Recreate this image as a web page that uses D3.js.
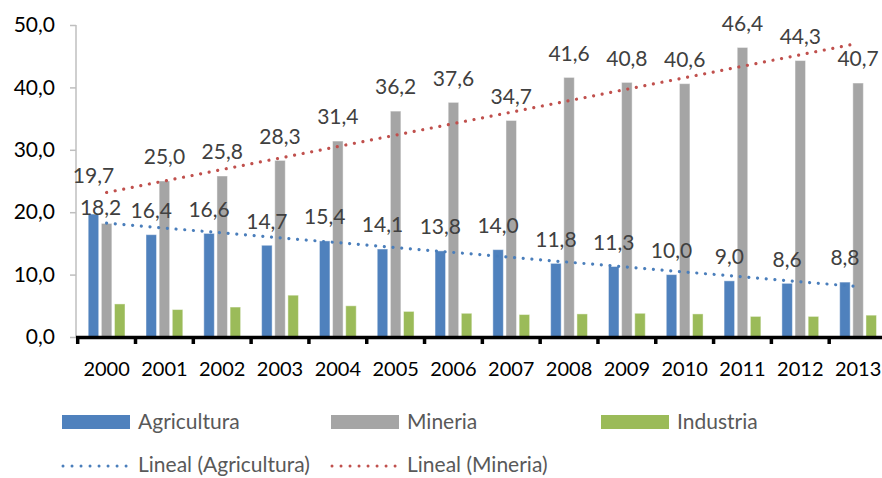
<!DOCTYPE html>
<html><head><meta charset="utf-8">
<script src="https://cdn.jsdelivr.net/npm/d3@7/dist/d3.min.js"></script>
<style>body{margin:0;background:#fff;} svg{display:block;}</style>
</head><body>
<svg id="c" width="882" height="478"></svg>
<script>
const years = ["2000","2001","2002","2003","2004","2005","2006","2007","2008","2009","2010","2011","2012","2013"];
const agricultura = [19.7,16.4,16.6,14.7,15.4,14.1,13.8,14.0,11.8,11.3,10.0,9.0,8.6,8.8];
const mineria = [18.2,25.0,25.8,28.3,31.4,36.2,37.6,34.7,41.6,40.8,40.6,46.4,44.3,40.7];
const industria = [5.3,4.4,4.8,6.7,5.0,4.1,3.8,3.6,3.7,3.8,3.7,3.3,3.3,3.5];
const yTicks = [0,10,20,30,40,50];
const seriesNames = ["Agricultura","Mineria","Industria"];
const colors = {Agricultura:"#4F81BD", Mineria:"#A5A5A5", Industria:"#9BBB59"};
const trendColors = {Agricultura:"#4A7EBB", Mineria:"#C0504D"};

const svg = d3.select("#c");
const font = "Lato, 'Open Sans', sans-serif";
const x0 = d3.scaleBand().domain(years).range([77.7, 887]).padding(0);
const x1 = d3.scaleBand().domain(seriesNames).range([10.5, 47.3]).paddingInner(0.2);
const y = d3.scaleLinear().domain([0,50]).range([337,25]);
const fmt = v => d3.format(".1f")(v).replace(".", ",");

const data = {Agricultura: agricultura, Mineria: mineria, Industria: industria};

// y axis
const yAxis = svg.append("g").attr("transform","translate(76,0)")
  .call(d3.axisLeft(y).tickValues(yTicks).tickSize(6).tickPadding(15).tickFormat(fmt));
yAxis.select(".domain").attr("stroke","#BFBFBF").attr("stroke-width",1.5).attr("d","M0,25V337");
yAxis.selectAll(".tick line").attr("stroke","#BFBFBF").attr("stroke-width",1.5);
yAxis.selectAll("text").attr("font-family",font).attr("font-size",21).attr("fill","#000");

// bars
seriesNames.forEach(s => {
  svg.append("g").selectAll("rect").data(data[s]).join("rect")
    .attr("x",(d,i)=>x0(years[i])+x1(s))
    .attr("width",x1.bandwidth())
    .attr("y",d=>y(d))
    .attr("height",d=>y(0)-y(d))
    .attr("fill",colors[s])
    .attr("stroke","#ffffff").attr("stroke-opacity",0.45).attr("stroke-width",1);
});

// x axis
const xAxis = svg.append("g").attr("transform","translate(0,337.5)")
  .call(d3.axisBottom(x0).tickSize(0).tickPadding(24));
xAxis.select(".domain").attr("stroke","#000").attr("stroke-width",3.5).attr("d","M76,0H882");
xAxis.selectAll("text").attr("font-family",font).attr("font-size",20).attr("fill","#000");
const tickPos = years.map(yy => x0(yy)).concat([x0.range()[1]]);
svg.append("g").selectAll("line").data(tickPos).join("line")
  .attr("x1",d=>d).attr("x2",d=>d).attr("y1",337).attr("y2",344)
  .attr("stroke","#000").attr("stroke-width",3.5);

// trend lines (least squares)
function linfit(vals){
  const xs = vals.map((v,i)=>i+1);
  const mx = d3.mean(xs), my = d3.mean(vals);
  const b = d3.sum(xs.map((xx,i)=>(xx-mx)*(vals[i]-my))) / d3.sum(xs.map(xx=>(xx-mx)*(xx-mx)));
  return xx => my + b*(xx-mx);
}
["Agricultura","Mineria"].forEach(s => {
  const f = linfit(data[s]);
  const line = d3.line().x(d=>x0(years[d])+x0.bandwidth()/2).y(d=>y(f(d+1)));
  svg.append("path").datum([0, years.length-1]).attr("d",line)
    .attr("fill","none").attr("stroke",trendColors[s]).attr("stroke-width",3.2)
    .attr("stroke-linecap","round").attr("stroke-dasharray","0.01 8.7");
});

// data labels
const labelAdjust = {"Agricultura-0":[0,-14], "Mineria-0":[-6,8]};
["Agricultura","Mineria"].forEach(s => {
  svg.append("g").selectAll("text").data(data[s]).join("text")
    .attr("x",(d,i)=>x0(years[i])+x1(s)+x1.bandwidth()/2 + ((labelAdjust[s+"-"+i]||[0,0])[0]))
    .attr("y",(d,i)=>y(d)-24 + ((labelAdjust[s+"-"+i]||[0,0])[1]))
    .attr("dy","0.35em").attr("text-anchor","middle")
    .attr("font-family",font).attr("font-size",21).attr("fill","#404040")
    .text(d=>fmt(d));
});

// legend
const lg = svg.append("g").attr("font-family",font).attr("font-size",21).attr("fill","#595959");
const row1 = [{n:"Agricultura",x:62},{n:"Mineria",x:331},{n:"Industria",x:601}];
row1.forEach(r => {
  lg.append("rect").attr("x",r.x).attr("y",415).attr("width",68).attr("height",14).attr("fill",colors[r.n]);
  lg.append("text").attr("x",r.x+76).attr("y",429.3).text(r.n);
});
const row2 = [{n:"Agricultura",x:62,t:"Lineal (Agricultura)"},{n:"Mineria",x:331,t:"Lineal (Mineria)"}];
row2.forEach(r => {
  lg.append("line").attr("x1",r.x+1).attr("x2",r.x+65).attr("y1",466).attr("y2",466)
    .attr("stroke",trendColors[r.n]).attr("stroke-width",3).attr("stroke-linecap","round")
    .attr("stroke-dasharray","0.01 9");
  lg.append("text").attr("x",r.x+76).attr("y",472).text(r.t);
});
</script>
</body></html>
